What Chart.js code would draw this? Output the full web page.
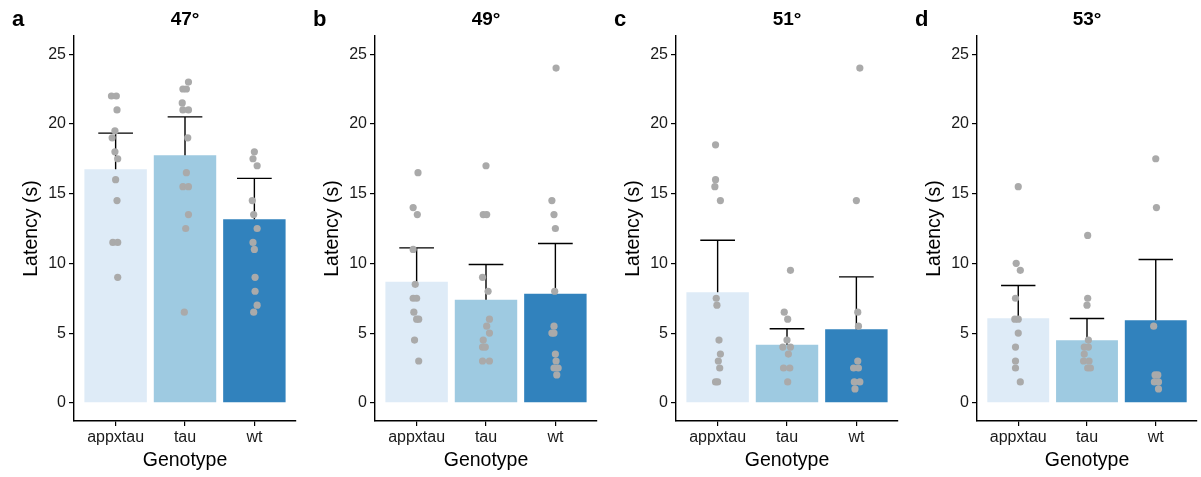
<!DOCTYPE html>
<html>
<head>
<meta charset="utf-8">
<script src="https://cdn.jsdelivr.net/npm/chart.js@4.4.1/dist/chart.umd.min.js"></script>
<style>
    body { margin: 0; background: #fff; }
    #wrap { position: relative; width: 1201px; height: 477px; }
    canvas { position: absolute; top: 0; }
</style>
</head>
<body>
<div id="wrap">
    <canvas id="p0" width="300" height="477" style="left:0px"></canvas>
    <canvas id="p1" width="300" height="477" style="left:301px"></canvas>
    <canvas id="p2" width="300" height="477" style="left:602px"></canvas>
    <canvas id="p3" width="298" height="477" style="left:903px"></canvas>
</div>
<script>
// Categories and labels
const genotypes = ['appxtau', 'tau', 'wt'];
const temperatures = ['47°', '49°', '51°', '53°'];
const panelLetters = ['a', 'b', 'c', 'd'];
const yTicks = [0, 5, 10, 15, 20, 25];

// Mean latency per genotype (bar height)
const mean47 = [16.75, 17.76, 13.17];
const mean49 = [8.68, 7.39, 7.82];
const mean51 = [7.93, 4.16, 5.28];
const mean53 = [6.07, 4.49, 5.93];

// Top of the error bar per genotype
const upper47 = [19.34, 20.5, 16.09];
const upper49 = [11.11, 9.92, 11.42];
const upper51 = [11.66, 5.31, 9.03];
const upper53 = [8.41, 6.05, 10.28];

// Individual latencies, one list per genotype
const dots47 = [
    [22, 22, 21, 19.5, 19, 18, 17.5, 16, 14.5, 11.5, 11.5, 9],
    [23, 22.5, 22.5, 21.5, 21, 21, 19, 16.5, 15.5, 15.5, 13.5, 12.5, 6.5],
    [18, 17.5, 17, 14.5, 13.5, 12.5, 11.5, 11, 9, 8, 7, 6.5]
];
const dots49 = [
    [16.5, 14, 13.5, 11, 8.5, 7.5, 7.5, 6.5, 6, 6, 4.5, 3],
    [17, 13.5, 13.5, 9, 8, 6, 5.5, 5, 4.5, 4, 4, 3, 3],
    [24, 14.5, 13.5, 12.5, 8, 5.5, 5, 5, 3.5, 3, 2.5, 2.5, 2]
];
const dots51 = [
    [18.5, 16, 15.5, 14.5, 7.5, 7, 4.5, 3.5, 3, 2.5, 1.5, 1.5],
    [9.5, 6.5, 6, 4.5, 4, 4, 3.5, 2.5, 2.5, 1.5],
    [24, 14.5, 6.5, 5.5, 3, 2.5, 2.5, 1.5, 1.5, 1]
];
const dots53 = [
    [15.5, 10, 9.5, 7.5, 6, 6, 5, 4, 3, 2.5, 1.5],
    [12, 7.5, 7, 4.5, 4, 4, 3.5, 3, 3, 2.5, 2.5],
    [17.5, 14, 5.5, 2, 2, 1.5, 1.5, 1]
];

// Horizontal jitter of each dot, in category units
const jitter47 = [
    [-0.06, 0.01, 0.02, -0.01, -0.05, -0.01, 0.03, 0, 0.02, -0.04, 0.03, 0.03],
    [0.05, -0.03, 0.02, -0.04, -0.03, 0.05, 0.04, 0.02, -0.03, 0.05, 0.05, 0.01, -0.01],
    [0, -0.02, 0.04, -0.03, -0.01, 0.04, -0.02, 0, 0.01, 0.01, 0.04, -0.01]
];
const jitter49 = [
    [0.02, -0.05, 0.01, -0.05, -0.02, -0.05, 0, -0.04, 0, 0.03, -0.03, 0.03],
    [0, -0.04, 0.01, -0.05, 0.03, 0.05, 0.01, 0.05, -0.04, -0.05, -0.01, -0.05, 0.05],
    [0.01, -0.05, -0.02, 0, -0.01, -0.02, -0.05, -0.02, 0, 0.01, -0.02, 0.04, 0.02]
];
const jitter51 = [
    [-0.03, -0.03, -0.04, 0.04, -0.02, -0.01, 0.02, 0.04, 0.01, 0.03, -0.03, 0],
    [0.05, -0.04, 0.01, 0, -0.06, 0.05, 0.02, -0.05, 0.04, 0.01],
    [0.05, 0, 0.02, 0.03, 0.02, -0.04, 0.03, -0.03, 0.05, -0.02]
];
const jitter53 = [
    [0, -0.03, 0.03, -0.04, -0.05, 0, 0, -0.04, -0.04, -0.04, 0.03],
    [0.01, 0.01, 0, 0.02, -0.04, 0.02, -0.04, -0.05, 0.03, 0.01, 0.05],
    [0, 0.01, -0.03, 0.03, -0.01, -0.02, 0.04, 0.04]
];

const panels = [
    { mean: mean47, upper: upper47, dots: dots47, jitter: jitter47 },
    { mean: mean49, upper: upper49, dots: dots49, jitter: jitter49 },
    { mean: mean51, upper: upper51, dots: dots51, jitter: jitter51 },
    { mean: mean53, upper: upper53, dots: dots53, jitter: jitter53 }
];

const barColors = ['#deebf7', '#9ecae1', '#3182bd'];
const dotColor = '#aaaaaa';
const fontFamily = '"Liberation Sans", Arial, Helvetica, sans-serif';

// Draw upward error bars right after the bars, before the dots
const errorBarPlugin = {
    id: 'errorBars',
    afterDatasetDraw(chart, args, opts) {
        if (args.meta.type !== 'bar') return;
        const { ctx } = chart;
        const xs = chart.scales.x;
        const ys = chart.scales.y;
        ctx.save();
        ctx.strokeStyle = '#000';
        ctx.lineWidth = 1.4;
        opts.mean.forEach((m, i) => {
            const x = xs.getPixelForValue(i + 1);
            const x0 = xs.getPixelForValue(i + 1 - opts.capHalf);
            const x1 = xs.getPixelForValue(i + 1 + opts.capHalf);
            const yTop = ys.getPixelForValue(opts.upper[i]);
            const yMean = ys.getPixelForValue(m);
            ctx.beginPath();
            ctx.moveTo(x, yMean);
            ctx.lineTo(x, yTop);
            ctx.moveTo(x0, yTop);
            ctx.lineTo(x1, yTop);
            ctx.stroke();
        });
        ctx.restore();
    }
};

// Bold panel letter in the top-left corner
const panelLetterPlugin = {
    id: 'panelLetter',
    afterDraw(chart, args, opts) {
        const { ctx } = chart;
        ctx.save();
        ctx.font = 'bold 22px ' + fontFamily;
        ctx.fillStyle = '#000';
        ctx.textBaseline = 'middle';
        ctx.textAlign = 'left';
        ctx.fillText(opts.text, 12, 20);
        ctx.restore();
    }
};

const renderPanel = (idx) => {
    const p = panels[idx];
    const ctx = document.getElementById('p' + idx).getContext('2d');

    const barData = p.mean.map((m, i) => ({ x: i + 1, y: m }));
    const dotData = [];
    p.dots.forEach((list, g) => {
        list.forEach((v, k) => {
            dotData.push({ x: g + 1 + p.jitter[g][k], y: v });
        });
    });

    new Chart(ctx, {
        type: 'bar',
        data: {
            datasets: [{
                type: 'bar',
                data: barData,
                backgroundColor: barColors,
                borderWidth: 0,
                categoryPercentage: 1,
                barPercentage: 0.9,
                order: 2
            }, {
                type: 'scatter',
                data: dotData,
                backgroundColor: dotColor,
                borderWidth: 0,
                pointRadius: 3.6,
                order: 1
            }]
        },
        options: {
            responsive: false,
            animation: false,
            events: [],
            layout: { padding: { left: 0, right: 4, top: 0, bottom: 0 } },
            plugins: {
                legend: { display: false },
                tooltip: { enabled: false },
                title: {
                    display: true,
                    text: temperatures[idx],
                    fullSize: false,
                    color: '#000',
                    font: { family: fontFamily, size: 19, weight: 'bold' },
                    padding: { top: 8.6, bottom: 4.6 }
                },
                errorBars: { mean: p.mean, upper: p.upper, capHalf: 0.25 },
                panelLetter: { text: panelLetters[idx] }
            },
            scales: {
                x: {
                    type: 'linear',
                    min: 0.4,
                    max: 3.6,
                    offset: false,
                    afterBuildTicks: (scale) => {
                        scale.ticks = genotypes.map((g, i) => ({ value: i + 1 }));
                    },
                    afterFit: (scale) => { scale.height = 56; },
                    ticks: {
                        color: '#1a1a1a',
                        font: { family: fontFamily, size: 16 },
                        padding: 2,
                        maxRotation: 0,
                        callback: (v) => genotypes[Math.round(v) - 1]
                    },
                    grid: {
                        offset: false,
                        drawOnChartArea: false,
                        drawTicks: true,
                        tickLength: 5,
                        color: '#000',
                        lineWidth: 1.2
                    },
                    border: { display: true, color: '#000', width: 1.4 },
                    title: {
                        display: true,
                        text: 'Genotype',
                        color: '#000',
                        font: { family: fontFamily, size: 19.5 },
                        padding: { top: 0, bottom: 5 }
                    }
                },
                y: {
                    type: 'linear',
                    min: -1.3,
                    max: 26.3,
                    afterBuildTicks: (scale) => {
                        scale.ticks = yTicks.map(v => ({ value: v }));
                    },
                    afterFit: (scale) => { scale.width = 74; },
                    ticks: {
                        color: '#1a1a1a',
                        font: { family: fontFamily, size: 16 },
                        padding: 3
                    },
                    grid: {
                        drawOnChartArea: false,
                        drawTicks: true,
                        tickLength: 5,
                        color: '#000',
                        lineWidth: 1.2
                    },
                    border: { display: true, color: '#000', width: 1.4 },
                    title: {
                        display: true,
                        text: 'Latency (s)',
                        color: '#000',
                        font: { family: fontFamily, size: 19.5 },
                        padding: { top: 20, bottom: 0 }
                    }
                }
            }
        },
        plugins: [errorBarPlugin, panelLetterPlugin]
    });
};

window.onload = () => {
    for (let i = 0; i < panels.length; i++) {
        renderPanel(i);
    }
};
</script>
</body>
</html>
